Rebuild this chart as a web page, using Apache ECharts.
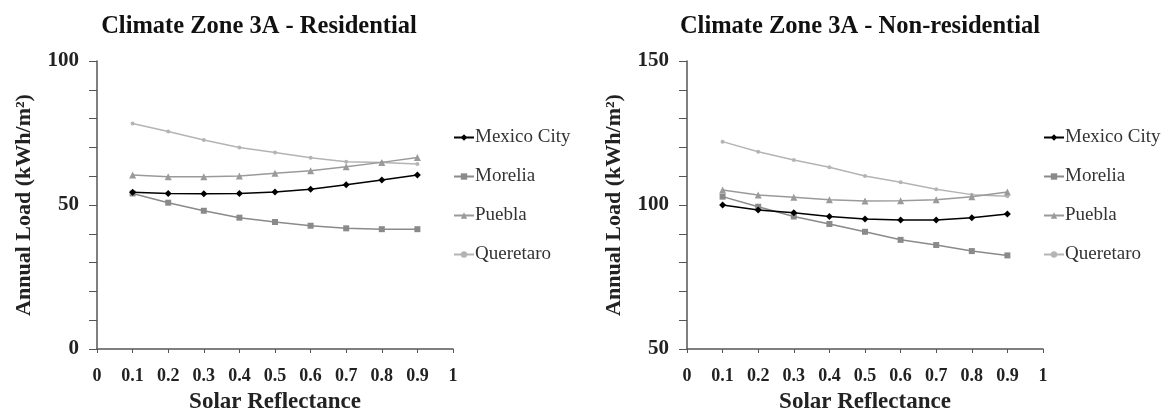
<!DOCTYPE html>
<html><head><meta charset="utf-8">
<script src="https://cdn.jsdelivr.net/npm/echarts@6/dist/echarts.min.js"></script>
<style>html,body{margin:0;padding:0;background:#fff}#c{width:1173px;height:414px}</style>
</head><body><div id="c"></div>
<script>
const reflectance = [0.1,0.2,0.3,0.4,0.5,0.6,0.7,0.8,0.9];
const seriesNames = ['Mexico City','Morelia','Puebla','Queretaro'];
// Residential
const resMexicoCity = [54.4,54.0,53.9,54.0,54.5,55.5,57.0,58.7,60.4];
const resMorelia    = [54.0,50.8,48.0,45.6,44.1,42.8,41.9,41.6,41.6];
const resPuebla     = [60.4,59.8,59.8,60.1,61.0,61.9,63.3,64.8,66.5];
const resQueretaro  = [78.3,75.5,72.6,70.0,68.2,66.4,65.0,64.8,64.2];
// Non-residential
const nonMexicoCity = [100.0,98.3,97.3,96.0,95.1,94.8,94.8,95.6,96.9];
const nonMorelia    = [102.9,99.4,96.0,93.4,90.7,87.9,86.1,84.0,82.5];
const nonPuebla     = [105.2,103.5,102.7,101.8,101.4,101.5,101.8,102.9,104.5];
const nonQueretaro  = [122.0,118.5,115.6,113.1,110.1,107.9,105.5,103.6,103.0];
const titles = ['Climate Zone 3A - Residential','Climate Zone 3A - Non-residential'];

const serif = '"Liberation Serif","Times New Roman",serif';
const styles = [
  {color:'#000000', symbol:'diamond', size:7},
  {color:'#8a8a8a', symbol:'rect', size:6},
  {color:'#9a9a9a', symbol:'triangle', size:7},
  {color:'#b4b4b4', symbol:'circle', size:4}
];
const pair = ys => reflectance.map((x,i)=>[x,ys[i]]);
const sets = [[resMexicoCity,resMorelia,resPuebla,resQueretaro],[nonMexicoCity,nonMorelia,nonPuebla,nonQueretaro]];

const grids = [
  {left:97, right:720, top:61, bottom:65, containLabel:false, outerBoundsMode:'none'},
  {left:687, right:130, top:61, bottom:65, containLabel:false, outerBoundsMode:'none'}
];
const yRanges = [{min:0,max:100},{min:50,max:150}];

function xAxis(gi){
  return {type:'value', gridIndex:gi, min:0, max:1, interval:0.1,
    name:'Solar Reflectance', nameLocation:'middle', nameGap:42,
    nameTextStyle:{fontFamily:serif, fontWeight:'bold', fontSize:23, color:'#222'},
    axisLine:{lineStyle:{color:'#555', width:1.5}},
    axisTick:{show:true, inside:false, length:4, lineStyle:{color:'#555'}},
    axisLabel:{fontFamily:serif, fontWeight:'bold', fontSize:18, color:'#222', margin:18,
      formatter:v=>String(+v.toFixed(1))},
    splitLine:{show:false}};
}
function yAxis(gi){
  return {type:'value', gridIndex:gi, min:yRanges[gi].min, max:yRanges[gi].max, interval:50,
    name:'Annual Load (kWh/m²)', nameLocation:'middle', nameGap:62, nameRotate:90,
    nameTextStyle:{fontFamily:serif, fontWeight:'bold', fontSize:22, color:'#222'},
    axisLine:{show:true, lineStyle:{color:'#555', width:1.5}},
    axisTick:{show:true, length:8, lineStyle:{color:'#555'}},
    minorTick:{show:true, splitNumber:5, length:8, lineStyle:{color:'#555'}},
    axisLabel:{fontFamily:serif, fontWeight:'bold', fontSize:21, color:'#222', margin:18},
    splitLine:{show:false}};
}

const series = [];
sets.forEach((set,gi)=>{
  set.forEach((ys,si)=>{
    const s = styles[si];
    series.push({type:'line', name:seriesNames[si], xAxisIndex:gi, yAxisIndex:gi,
      data:pair(ys), symbol:s.symbol, symbolSize:s.size, showSymbol:true,
      lineStyle:{color:s.color, width:1.5}, itemStyle:{color:s.color}, z: 10-si});
  });
});

const legendBase = {orient:'vertical', itemGap:20, itemWidth:20, itemHeight:8,
  textStyle:{fontFamily:serif, fontSize:19, color:'#333', padding:[0,0,0,-4]}, data:seriesNames};

const option = {
  animation:false,
  backgroundColor:'#fff',
  title:[
    {text:titles[0], left:254, top:9, textAlign:'center',
      textStyle:{fontFamily:serif, fontWeight:'bold', fontSize:24.5, color:'#111'}},
    {text:titles[1], left:855, top:9, textAlign:'center',
      textStyle:{fontFamily:serif, fontWeight:'bold', fontSize:24.5, color:'#111'}}
  ],
  grid:grids,
  xAxis:[xAxis(0),xAxis(1)],
  yAxis:[yAxis(0),yAxis(1)],
  legend:[
    Object.assign({left:448, top:123}, legendBase),
    Object.assign({left:1038, top:123}, legendBase)
  ],
  series:series
};
const chart = echarts.init(document.getElementById('c'));
chart.setOption(option);
</script></body></html>
